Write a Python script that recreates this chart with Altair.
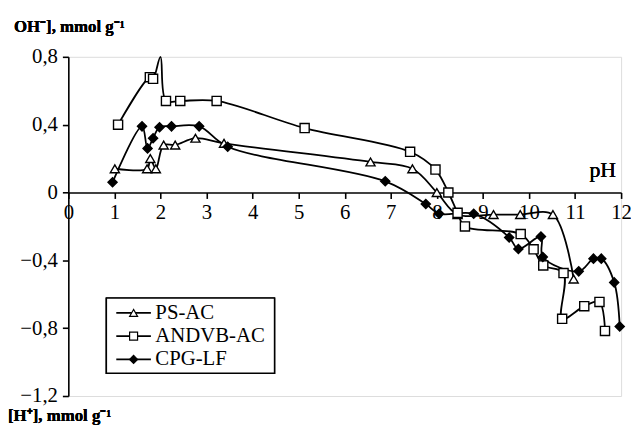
import altair as alt
import pandas as pd

series_names = ["PS-AC", "ANDVB-AC", "CPG-LF"]
shape_range = ["triangle-up", "square", "diamond"]
fill_range = ["white", "white", "black"]

ps_x = [1.01, 1.71, 1.78, 1.90, 2.07, 2.32, 2.76, 3.38, 6.56, 7.47, 8.00, 8.45, 9.23, 9.81, 10.52, 10.97]
ps_y = [0.14, 0.14, 0.20, 0.14, 0.28, 0.28, 0.32, 0.29, 0.18, 0.14, 0.00, -0.13, -0.13, -0.13, -0.13, -0.51]
ps_marker = [1] * len(ps_x)

an_x = [1.08, 1.77, 1.84, 2.00, 2.12, 2.43, 3.22, 5.13, 7.42, 7.97, 8.25, 8.45, 8.61, 9.82, 10.10, 10.31, 10.75, 10.72, 11.20, 11.53, 11.65]
an_y = [0.40, 0.68, 0.67, 0.80, 0.54, 0.54, 0.54, 0.38, 0.24, 0.135, 0.0, -0.12, -0.20, -0.245, -0.335, -0.43, -0.475, -0.745, -0.67, -0.645, -0.816]
an_marker = [1, 1, 1, 0, 1, 1, 1, 1, 1, 1, 1, 1, 1, 1, 1, 1, 1, 1, 1, 1, 1]

cpg_x = [0.96, 1.60, 1.72, 1.84, 1.98, 2.24, 2.84, 3.46, 6.88, 7.76, 8.05, 8.80, 9.57, 9.77, 10.26, 10.30, 11.08, 11.40, 11.57, 11.85, 11.97]
cpg_y = [0.06, 0.39, 0.26, 0.32, 0.385, 0.39, 0.39, 0.27, 0.066, -0.068, -0.125, -0.125, -0.265, -0.333, -0.26, -0.38, -0.465, -0.39, -0.39, -0.53, -0.79]
cpg_marker = [1] * len(cpg_x)

x_ticks = list(range(0, 13))
y_ticks = [-1.2, -0.8, -0.4, 0, 0.4, 0.8]

rows = []
for name, xs, ys, ms in [(series_names[0], ps_x, ps_y, ps_marker),
                         (series_names[1], an_x, an_y, an_marker),
                         (series_names[2], cpg_x, cpg_y, cpg_marker)]:
    for i, (xv, yv, mv) in enumerate(zip(xs, ys, ms)):
        rows.append({"series": name, "x": xv, "y": yv, "idx": i, "marker": mv})
df = pd.DataFrame(rows)
legend_df = pd.DataFrame({"series": series_names, "row": [0, 1, 2]})

FONT = "Liberation Serif"
W, H = 559, 343

xs = alt.Scale(domain=[0, 12], nice=False, zero=False)
ys = alt.Scale(domain=[-1.2, 0.8], nice=False, zero=False)
shape_scale = alt.Scale(domain=series_names, range=shape_range)
fill_scale = alt.Scale(domain=series_names, range=fill_range)

lab_expr = "datum.value == 0 ? '0' : replace(format(datum.value, '.1f'), '.', ',')"

base = alt.Chart(df)

lines = base.mark_line(interpolate="catmull-rom", color="black", strokeWidth=1.8).encode(
    x=alt.X("x:Q", scale=xs, axis=alt.Axis(values=x_ticks, title=None, grid=False, offset=-205.8,
                                           tickSize=6, labelPadding=3, labelFontSize=21, labelFont=FONT,
                                           domainColor="black", tickColor="black", labelColor="black",
                                           domainWidth=1.6, tickWidth=1.6, labelFlush=False)),
    y=alt.Y("y:Q", scale=ys, axis=alt.Axis(values=y_ticks, title=None, grid=False, labelExpr=lab_expr,
                                           tickSize=6, labelPadding=5, labelFontSize=21, labelFont=FONT,
                                           domainColor="black", tickColor="black", labelColor="black",
                                           domainWidth=1.6, tickWidth=1.6)),
    detail="series:N",
    order="idx:Q",
)

points = base.transform_filter("datum.marker == 1").mark_point(
    size=85, stroke="black", strokeWidth=1.4, opacity=1, filled=False
).encode(
    x=alt.X("x:Q", scale=xs),
    y=alt.Y("y:Q", scale=ys),
    shape=alt.Shape("series:N", scale=shape_scale, legend=None),
    fill=alt.Fill("series:N", scale=fill_scale, legend=None),
)

# legend drawn as marks
leg_base = alt.Chart(legend_df).transform_calculate(py="259 + 23.5 * datum.row")
leg_box = alt.Chart(legend_df).mark_rect(fill="white", stroke="black", strokeWidth=1.4).encode(
    x=alt.value(38.5), x2=alt.value(208.5), y=alt.value(244), y2=alt.value(320)
)
leg_lines = leg_base.mark_rule(color="black", strokeWidth=1.8).encode(
    x=alt.value(48.5), x2=alt.value(83.5), y=alt.Y("py:Q", scale=None, axis=None)
)
leg_pts = leg_base.mark_point(size=65, stroke="black", strokeWidth=1.2, opacity=1).encode(
    x=alt.value(66), y=alt.Y("py:Q", scale=None, axis=None),
    shape=alt.Shape("series:N", scale=shape_scale, legend=None),
    fill=alt.Fill("series:N", scale=fill_scale, legend=None),
)
leg_text = leg_base.mark_text(align="left", baseline="middle", font=FONT, fontSize=21, color="black").encode(
    x=alt.value(88), y=alt.Y("py:Q", scale=None, axis=None), text="series:N"
)

t_top = alt.Chart(legend_df).mark_text(align="left", baseline="middle", font=FONT, fontSize=17,
                                       fontWeight="bold", color="black").encode(
    x=alt.value(-55), y=alt.value(-30), text=alt.value("OH\u207b], mmol g\u207b\u00b9"))
t_bot = alt.Chart(legend_df).mark_text(align="left", baseline="middle", font=FONT, fontSize=17,
                                       fontWeight="bold", color="black").encode(
    x=alt.value(-61), y=alt.value(363), text=alt.value("[H\u207a], mmol g\u207b\u00b9"))
t_ph = alt.Chart(legend_df).mark_text(align="left", baseline="middle", font=FONT, fontSize=22,
                                      color="black").encode(
    x=alt.value(527), y=alt.value(115), text=alt.value("pH"))

chart = alt.layer(lines, points, leg_box, leg_lines, leg_pts, leg_text, t_top, t_bot, t_ph).properties(
    width=W, height=H,
    autosize="none",
    padding={"left": 61, "top": 47, "right": 10, "bottom": 32},
).configure_view(stroke=None).configure(background="white")

chart.save("out.html", embed_options={"renderer": "svg", "actions": False})
